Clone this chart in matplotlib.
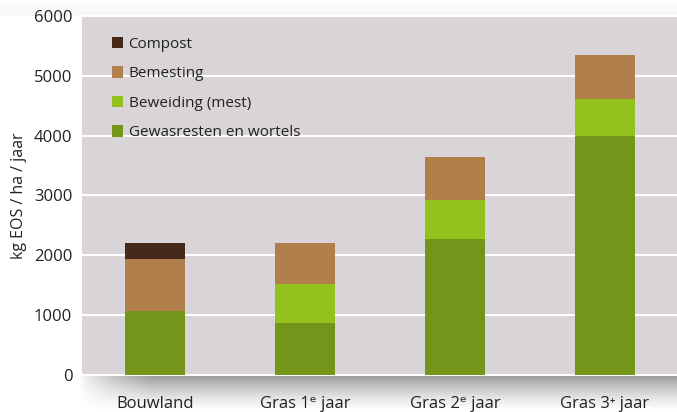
import matplotlib.pyplot as plt
import numpy as np

plt.rcParams['font.family'] = ['Open Sans', 'DejaVu Sans']

# data (kg EOS / ha / jaar)
categorieen = ['Bouwland', 'Gras 1ᵉ jaar', 'Gras 2ᵉ jaar', 'Gras 3⁺ jaar']
gewasresten = [1070, 875, 2280, 3990]
beweiding = [0, 645, 640, 630]
bemesting = [870, 680, 720, 720]
compost = [260, 0, 0, 0]

kleuren = {'gewas': '#73961a', 'beweiding': '#95c11f',
           'bemesting': '#b07f4b', 'compost': '#45291a'}

fig = plt.figure(figsize=(6.77, 4.12), dpi=100)

# shadow underneath the plot area
sh = fig.add_axes([0.115, 0.0, 0.885, 0.09], zorder=0)
ny, nx = 40, 200
vert = np.linspace(1, 0, ny)[:, None] ** 1.4
hori = np.clip(np.linspace(0, 1, nx)[None, :] / 0.12, 0, 1) ** 0.7
alpha = 0.62 * vert * hori
img = np.zeros((ny, nx, 4))
img[..., 0:3] = 0.33
img[..., 3] = alpha
sh.imshow(img, aspect='auto', extent=[0, 1, 0, 1])
sh.axis('off')

# faint shade at the top
top = fig.add_axes([0.0, 0.962, 1.0, 0.038], zorder=0)
g = np.zeros((10, 2, 4))
g[..., 0:3] = 0.6
g[..., 3] = (np.linspace(0.02, 0.08, 10)[:, None]) * np.ones((1, 2))
top.imshow(g, aspect='auto', extent=[0, 1, 0, 1])
top.axis('off')

ax = fig.add_axes([0.1211, 0.0898, 0.8789, 0.8714], zorder=1)
ax.set_facecolor('#d8d4d8')

x = np.arange(len(categorieen))
w = 0.4
b1 = ax.bar(x, gewasresten, w, color=kleuren['gewas'], zorder=3)
bot = np.array(gewasresten)
b2 = ax.bar(x, beweiding, w, bottom=bot, color=kleuren['beweiding'], zorder=3)
bot = bot + np.array(beweiding)
b3 = ax.bar(x, bemesting, w, bottom=bot, color=kleuren['bemesting'], zorder=3)
bot = bot + np.array(bemesting)
b4 = ax.bar(x, compost, w, bottom=bot, color=kleuren['compost'], zorder=3)

ax.set_xlim(-0.49, 3.48)
ax.set_ylim(0, 6000)
ax.set_yticks(range(0, 6001, 1000))
ax.set_xticks(x)
ax.set_xticklabels(categorieen)
ax.yaxis.grid(True, color='white', linewidth=1.5, zorder=1)
ax.set_axisbelow(True)
ax.tick_params(axis='both', length=0, labelsize=12, colors='#222222')
ax.tick_params(axis='y', pad=7)
ax.tick_params(axis='x', pad=15)
for s in ax.spines.values():
    s.set_color('white')
    s.set_linewidth(1.5)
ax.spines['left'].set_visible(False)
ax.spines['right'].set_visible(False)

ax.set_ylabel('kg EOS / ha / jaar', fontsize=11.5, color='#222222', labelpad=5)

leg = ax.legend([b4, b3, b2, b1],
                ['Compost', 'Bemesting', 'Beweiding (mest)', 'Gewasresten en wortels'],
                loc='upper left', bbox_to_anchor=(0.05, 0.942), frameon=False,
                handlelength=0.75, handleheight=0.75, handletextpad=0.35,
                labelspacing=0.95, borderpad=0, borderaxespad=0, fontsize=11)
for t in leg.get_texts():
    t.set_color('#222222')

fig.savefig('out.png', dpi=100)
